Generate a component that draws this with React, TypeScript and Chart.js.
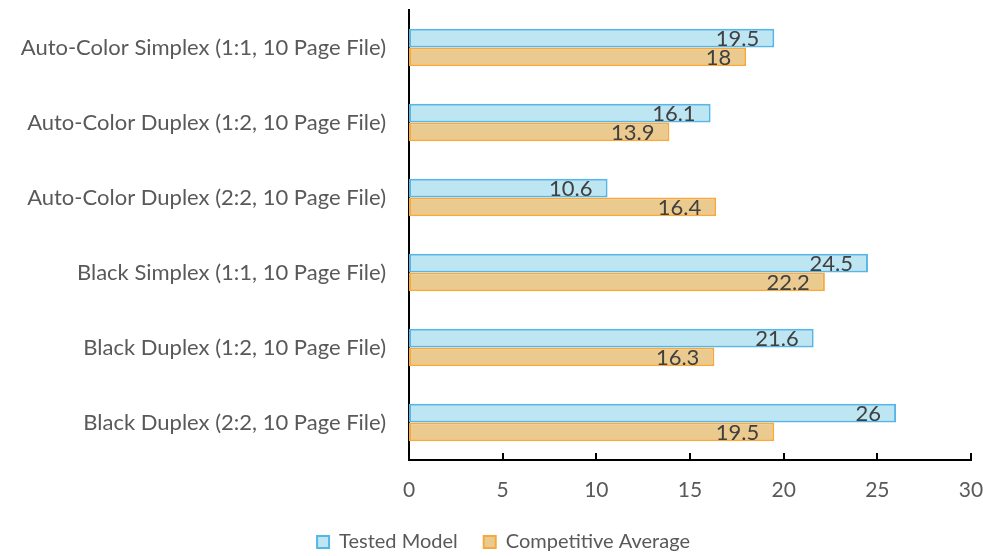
import React, { useEffect, useRef } from "react";
import { Chart, registerables } from "chart.js";
Chart.register(...registerables);

const categories = [
  "Auto-Color Simplex (1:1, 10 Page File)",
  "Auto-Color Duplex (1:2, 10 Page File)",
  "Auto-Color Duplex (2:2, 10 Page File)",
  "Black Simplex (1:1, 10 Page File)",
  "Black Duplex (1:2, 10 Page File)",
  "Black Duplex (2:2, 10 Page File)",
];
const testedModel = [19.5, 16.1, 10.6, 24.5, 21.6, 26];
const competitiveAverage = [18, 13.9, 16.4, 22.2, 16.3, 19.5];
const seriesNames = ["Tested Model", "Competitive Average"];
const xTicks = [0, 5, 10, 15, 20, 25, 30];

const FONT = "Lato, 'Open Sans', sans-serif";

const labelPlugin = {
  id: "barLabels",
  afterDatasetsDraw(chart: any) {
    const ctx = chart.ctx;
    ctx.save();
    ctx.font = `22px ${FONT}`;
    ctx.fillStyle = "#404040";
    ctx.textAlign = "right";
    ctx.textBaseline = "middle";
    chart.data.datasets.forEach((ds: any, i: number) => {
      const meta = chart.getDatasetMeta(i);
      meta.data.forEach((bar: any, j: number) => {
        ctx.fillText(String(ds.data[j]), bar.x - 15, bar.y + 1);
      });
    });
    ctx.restore();
  },
};

const tickPlugin = {
  id: "upTicks",
  afterDraw(chart: any) {
    const ctx = chart.ctx;
    const xs = chart.scales.x;
    const bottom = chart.chartArea.bottom;
    ctx.save();
    ctx.strokeStyle = "#000";
    ctx.lineWidth = 2;
    xs.ticks.forEach((t: any) => {
      const x = Math.round(xs.getPixelForValue(t.value));
      ctx.beginPath();
      ctx.moveTo(x, bottom);
      ctx.lineTo(x, bottom - 7);
      ctx.stroke();
    });
    ctx.restore();
  },
};

const legendFitPlugin = {
  id: "legendFit",
  beforeInit(chart: any) {
    const lg = chart.legend;
    if (lg) {
      const origFit = lg.fit;
      lg.fit = function (this: any) {
        origFit.call(this);
        this.height = 50;
      };
      const origDraw = lg.draw;
      lg.draw = function (this: any, ...args: any[]) {
        const ctx = this.ctx;
        ctx.save();
        ctx.translate(18, 0);
        origDraw.apply(this, args);
        ctx.restore();
      };
    }
  },
};

export default function App() {
  const ref = useRef<HTMLCanvasElement>(null);
  useEffect(() => {
    document.body.style.margin = "0";
    const chart = new Chart(ref.current!, {
      type: "bar",
      data: {
        labels: categories,
        datasets: [
          {
            label: seriesNames[0],
            data: testedModel,
            backgroundColor: "#BDE5F2",
            borderColor: "#56B6E8",
            borderWidth: 2,
            borderSkipped: false,
            categoryPercentage: 0.5,
            barPercentage: 1.0,
          },
          {
            label: seriesNames[1],
            data: competitiveAverage,
            backgroundColor: "#EBCA8F",
            borderColor: "#F7A93B",
            borderWidth: 2,
            borderSkipped: false,
            categoryPercentage: 0.5,
            barPercentage: 1.0,
          },
        ],
      },
      options: {
        indexAxis: "y",
        animation: false,
        responsive: false,
        layout: { padding: { top: 10, right: 12, bottom: 0, left: 0 } },
        plugins: {
          legend: {
            position: "bottom",
            labels: {
              boxWidth: 12,
              boxHeight: 12,
              color: "#595959",
              font: { family: FONT, size: 20 },
              padding: 26,
            },
          },
          tooltip: { enabled: false },
        },
        scales: {
          x: {
            min: xTicks[0],
            max: xTicks[xTicks.length - 1],
            afterBuildTicks: (s: any) => {
              s.ticks = xTicks.map((v) => ({ value: v }));
            },
            afterFit: (s: any) => {
              s.height = 46;
              s.paddingLeft = 0;
              s.paddingRight = 0;
            },
            ticks: {
              color: "#595959",
              font: { family: FONT, size: 21 },
              padding: 18,
              maxRotation: 0,
              autoSkip: false,
            },
            grid: { display: false, drawTicks: false },
            border: { display: true, color: "#000", width: 2 },
          },
          y: {
            afterFit: (s: any) => {
              s.width = 409;
              s.paddingTop = 0;
              s.paddingBottom = 0;
            },
            ticks: {
              color: "#595959",
              font: { family: FONT, size: 22 },
              padding: 23,
            },
            grid: { display: false, drawTicks: false },
            border: { display: true, color: "#000", width: 2 },
          },
        },
      },
      plugins: [labelPlugin, tickPlugin, legendFitPlugin],
    });
    return () => chart.destroy();
  }, []);
  return <canvas ref={ref} width={983} height={556} />;
}
